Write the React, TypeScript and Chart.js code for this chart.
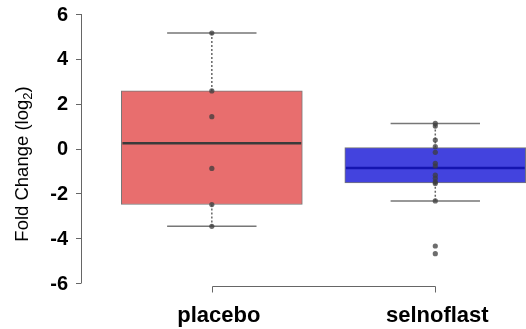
import React, { useEffect, useRef } from "react";
import { Chart, registerables } from "chart.js";
Chart.register(...registerables);

const categories = ["placebo", "selnoflast"];
const positions = [1, 2];
const whiskerLow = [-3.47, -2.34];
const q1 = [-2.5, -1.53];
const medians = [0.23, -0.87];
const q3 = [2.57, 0.04];
const whiskerHigh = [5.15, 1.12];
const placeboPoints = [5.15, 2.57, 1.42, -0.89, -2.5, -3.47];
const selnoflastPoints = [1.12, 1.0, 0.38, 0.08, -0.17, -0.66, -0.78, -1.19, -1.33, -1.49, -1.56, -2.34, -4.35, -4.69];
const yTicks = [-6, -4, -2, 0, 2, 4, 6];
const boxColors = ["#E86E6E", "#4343DE"];
const medianColors = ["#3a3a3a", "#1515B0"];
const labelOffsets = [7, 2];

const W = 526;
const H = 329;

const boxPlugin = {
  id: "boxExtras",
  afterDatasetDraw(chart: any, args: any) {
    if (args.index !== 1) return;
    const ctx = chart.ctx;
    const xs = chart.scales.x;
    const ys = chart.scales.y;
    ctx.save();
    positions.forEach((p, i) => {
      const cx = xs.getPixelForValue(p);
      ctx.strokeStyle = "#666";
      ctx.lineWidth = 1.5;
      ctx.setLineDash([2, 2]);
      ctx.beginPath();
      ctx.moveTo(cx, ys.getPixelForValue(q3[i]));
      ctx.lineTo(cx, ys.getPixelForValue(whiskerHigh[i]));
      ctx.moveTo(cx, ys.getPixelForValue(q1[i]));
      ctx.lineTo(cx, ys.getPixelForValue(whiskerLow[i]));
      ctx.stroke();
      ctx.setLineDash([]);
      ctx.strokeStyle = "#777";
      ctx.lineWidth = 1.5;
      const l = xs.getPixelForValue(p - 0.2);
      const r = xs.getPixelForValue(p + 0.2);
      ctx.beginPath();
      ctx.moveTo(l, ys.getPixelForValue(whiskerHigh[i]));
      ctx.lineTo(r, ys.getPixelForValue(whiskerHigh[i]));
      ctx.moveTo(l, ys.getPixelForValue(whiskerLow[i]));
      ctx.lineTo(r, ys.getPixelForValue(whiskerLow[i]));
      ctx.stroke();
      ctx.strokeStyle = medianColors[i];
      ctx.lineWidth = 2.5;
      ctx.beginPath();
      ctx.moveTo(xs.getPixelForValue(p - 0.4), ys.getPixelForValue(medians[i]));
      ctx.lineTo(xs.getPixelForValue(p + 0.4), ys.getPixelForValue(medians[i]));
      ctx.stroke();
    });
    ctx.restore();
  },
  afterDraw(chart: any) {
    const ctx = chart.ctx;
    const xs = chart.scales.x;
    const ys = chart.scales.y;
    const left = chart.chartArea.left;
    ctx.save();
    ctx.strokeStyle = "#666";
    ctx.lineWidth = 1;
    ctx.beginPath();
    ctx.moveTo(left + 0.5, ys.getPixelForValue(yTicks[yTicks.length - 1]));
    ctx.lineTo(left + 0.5, ys.getPixelForValue(yTicks[0]));
    yTicks.forEach((t) => {
      const y = Math.round(ys.getPixelForValue(t)) + 0.5;
      ctx.moveTo(left + 0.5, y);
      ctx.lineTo(left - 5, y);
    });
    ctx.stroke();
    ctx.fillStyle = "#000";
    ctx.font = "bold 20px 'Liberation Sans', Arial, sans-serif";
    ctx.textAlign = "right";
    ctx.textBaseline = "middle";
    yTicks.forEach((t) => {
      ctx.fillText(String(t), left - 13, ys.getPixelForValue(t) + 1);
    });
    const ay = 286.5;
    ctx.beginPath();
    const x1 = Math.round(xs.getPixelForValue(positions[0])) + 0.5;
    const x2 = Math.round(xs.getPixelForValue(positions[positions.length - 1])) + 0.5;
    ctx.moveTo(x1, ay);
    ctx.lineTo(x2, ay);
    positions.forEach((p) => {
      const x = Math.round(xs.getPixelForValue(p)) + 0.5;
      ctx.moveTo(x, ay);
      ctx.lineTo(x, ay + 6);
    });
    ctx.stroke();
    ctx.font = "bold 22px 'Liberation Sans', Arial, sans-serif";
    ctx.textAlign = "center";
    ctx.textBaseline = "alphabetic";
    categories.forEach((c, i) => {
      ctx.fillText(c, xs.getPixelForValue(positions[i]) + labelOffsets[i], 321.5);
    });
    ctx.translate(28, 164);
    ctx.rotate(-Math.PI / 2);
    const mainFont = "18.5px 'Liberation Sans', Arial, sans-serif";
    const subFont = "13px 'Liberation Sans', Arial, sans-serif";
    ctx.font = mainFont;
    const a = "Fold Change (log";
    const wa = ctx.measureText(a).width;
    const wc = ctx.measureText(")").width;
    ctx.font = subFont;
    const wb = ctx.measureText("2").width;
    const total = wa + wb + wc;
    let x = -total / 2;
    ctx.textAlign = "left";
    ctx.font = mainFont;
    ctx.fillText(a, x, 0);
    x += wa;
    ctx.font = subFont;
    ctx.fillText("2", x, 4);
    x += wb;
    ctx.font = mainFont;
    ctx.fillText(")", x, 0);
    ctx.restore();
  },
};

export default function App() {
  const ref = useRef<HTMLCanvasElement>(null);
  useEffect(() => {
    if (!ref.current) return;
    const pts = [
      ...placeboPoints.map((y) => ({ x: positions[0], y })),
      ...selnoflastPoints.map((y) => ({ x: positions[1], y })),
    ];
    const chart = new Chart(ref.current, {
      type: "bar",
      data: {
        datasets: [
          {
            type: "scatter",
            data: pts,
            backgroundColor: "rgba(60,60,60,0.75)",
            borderWidth: 0,
            pointRadius: 2.6,
            order: 0,
            clip: false,
          } as any,
          {
            type: "bar",
            data: positions.map((x, i) => ({ x, y: [q1[i], q3[i]] })),
            backgroundColor: boxColors,
            borderColor: "#777",
            borderWidth: 1,
            borderSkipped: false,
            barThickness: 181,
            order: 1,
            clip: false,
          } as any,
        ],
      },
      options: {
        responsive: false,
        animation: false,
        devicePixelRatio: 1,
        layout: { padding: { left: 81, right: 0, top: 14, bottom: 46 } },
        plugins: { legend: { display: false }, tooltip: { enabled: false } },
        scales: {
          x: { type: "linear", offset: false, min: 0.4146, max: 2.388, display: false },
          y: { type: "linear", min: -6, max: 6, display: false },
        },
      } as any,
      plugins: [boxPlugin],
    });
    return () => chart.destroy();
  }, []);
  return (
    <div style={{ position: "absolute", left: 0, top: 0, width: W, height: H, background: "#fff" }}>
      <canvas ref={ref} width={W} height={H} style={{ width: W, height: H }} />
    </div>
  );
}
